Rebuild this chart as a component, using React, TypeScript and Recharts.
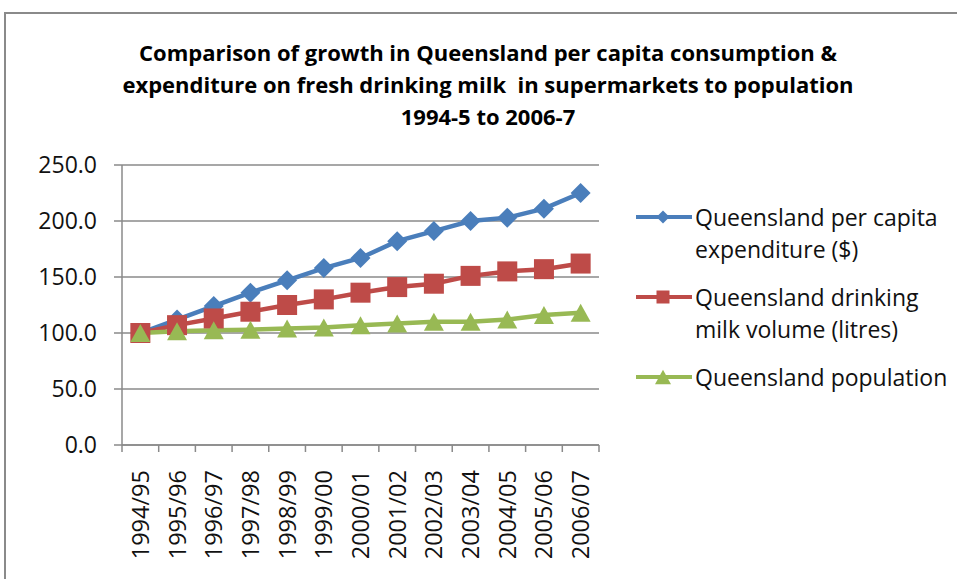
import { CartesianGrid, Line, LineChart, XAxis, YAxis } from "recharts";

const years = [
  "1994/95", "1995/96", "1996/97", "1997/98", "1998/99", "1999/00", "2000/01",
  "2001/02", "2002/03", "2003/04", "2004/05", "2005/06", "2006/07",
];
const expenditure = [100, 112, 124, 136, 147, 158, 167, 182, 191, 200, 203, 211, 225];
const volume = [100, 107, 113, 119, 125, 130, 136, 141, 144, 151, 155, 157, 162];
const population = [100, 101.5, 102.5, 103, 104, 105, 107, 108.5, 110, 110, 112, 116, 118];
const yTicks = [0, 50, 100, 150, 200, 250];

const titleLines = [
  "Comparison of growth in Queensland per capita consumption &",
  "expenditure on fresh drinking milk  in supermarkets to population",
  "1994-5 to 2006-7",
];

const BLUE = "#4a7ebb";
const RED = "#be4b48";
const GREEN = "#98b954";
const GRAY = "#8a8a8a";
const FONT = "'Open Sans', sans-serif";

const data = years.map((year, i) => ({
  year,
  expenditure: expenditure[i],
  volume: volume[i],
  population: population[i],
}));

const series = [
  { key: "expenditure", color: BLUE, shape: "diamond", label: ["Queensland per capita", "expenditure ($)"] },
  { key: "volume", color: RED, shape: "square", label: ["Queensland drinking", "milk volume (litres)"] },
  { key: "population", color: GREEN, shape: "triangle", label: ["Queensland population"] },
];

function Marker({ shape, cx, cy, color, size }: { shape: string; cx: number; cy: number; color: string; size: number }) {
  if (shape === "diamond") {
    return <polygon points={`${cx},${cy - size} ${cx + size},${cy} ${cx},${cy + size} ${cx - size},${cy}`} fill={color} />;
  }
  if (shape === "square") {
    return <rect x={cx - size} y={cy - size} width={size * 2} height={size * 2} fill={color} />;
  }
  return <polygon points={`${cx},${cy - size * 0.9} ${cx + size},${cy + size * 0.9} ${cx - size},${cy + size * 0.9}`} fill={color} />;
}

function makeDot(shape: string, color: string, size: number) {
  return (props: any) => {
    const { cx, cy, index } = props;
    if (cx == null || cy == null) return <g key={`d-${index}`} />;
    return (
      <g key={`d-${shape}-${index}`}>
        <Marker shape={shape} cx={cx} cy={cy} color={color} size={size} />
      </g>
    );
  };
}

function YearTick(props: any) {
  const { x, y, payload } = props;
  const half = payload.offset ?? 18.35;
  const last = payload.index === years.length - 1;
  return (
    <g>
      <line x1={x - half} y1={y} x2={x - half} y2={y + 7} stroke={GRAY} strokeWidth={1.5} />
      {last && <line x1={x + half} y1={y} x2={x + half} y2={y + 7} stroke={GRAY} strokeWidth={1.5} />}
      <g transform={`translate(${x},${y})`}>
        <text transform="rotate(-90)" x={-25} y={0} dy="0.36em" textAnchor="end" fontSize={23.5} fill="#111" fontFamily={FONT}>
          {payload.value}
        </text>
      </g>
    </g>
  );
}

export default function App() {
  return (
    <div style={{ position: "absolute", left: 0, top: 0, width: 957, height: 579, overflow: "hidden", background: "#fff" }}>
      <div style={{ position: "absolute", left: 4, top: 12, width: 1000, height: 700, border: `2px solid ${GRAY}` }} />
      <div
        style={{
          position: "absolute",
          left: 0,
          top: 36,
          width: 976,
          textAlign: "center",
          fontFamily: FONT,
          fontWeight: 700,
          fontSize: 22,
          lineHeight: "32px",
          color: "#000",
          whiteSpace: "pre",
        }}
      >
        {titleLines.map((t) => (
          <div key={t}>{t}</div>
        ))}
      </div>

      <div style={{ position: "absolute", left: 0, top: 0 }}>
        <LineChart width={957} height={579} data={data} margin={{ top: 165, right: 358, bottom: 0, left: 0 }}>
          <CartesianGrid vertical={false} stroke={GRAY} strokeWidth={1.5} />
          <XAxis
            dataKey="year"
            scale="band"
            interval={0}
            height={134}
            tickLine={false}
            tickSize={0}
            tickMargin={0}
            axisLine={{ stroke: GRAY, strokeWidth: 1.5 }}
            tick={<YearTick />}
          />
          <YAxis
            width={122}
            domain={[0, 250]}
            ticks={yTicks}
            interval={0}
            tickFormatter={(v: number) => v.toFixed(1)}
            tickSize={8}
            tickMargin={17}
            tickLine={{ stroke: GRAY, strokeWidth: 1.5 }}
            axisLine={{ stroke: GRAY, strokeWidth: 1.5 }}
            tick={{ fontSize: 23, fill: "#111", fontFamily: FONT }}
          />
          {series.map((s) => (
            <Line
              key={s.key}
              type="linear"
              dataKey={s.key}
              stroke={s.color}
              strokeWidth={4.5}
              dot={makeDot(s.shape, s.color, 10)}
              activeDot={false}
              isAnimationActive={false}
            />
          ))}
        </LineChart>
      </div>

      <div style={{ position: "absolute", left: 636, top: 201, fontFamily: FONT, fontSize: 23, color: "#111" }}>
        {series.map((s) => (
          <div key={s.key} style={{ position: "relative", height: s.label.length * 32, marginBottom: 16 }}>
            <svg width={56} height={32} style={{ position: "absolute", left: 0, top: 0 }}>
              <line x1={0} y1={16} x2={56} y2={16} stroke={s.color} strokeWidth={4} />
              <Marker shape={s.shape} cx={27} cy={16} color={s.color} size={s.shape === "triangle" ? 8 : 6.5} />
            </svg>
            <div style={{ position: "absolute", left: 59, top: 0, lineHeight: "32px", whiteSpace: "nowrap" }}>
              {s.label.map((l) => (
                <div key={l}>{l}</div>
              ))}
            </div>
          </div>
        ))}
      </div>
    </div>
  );
}
